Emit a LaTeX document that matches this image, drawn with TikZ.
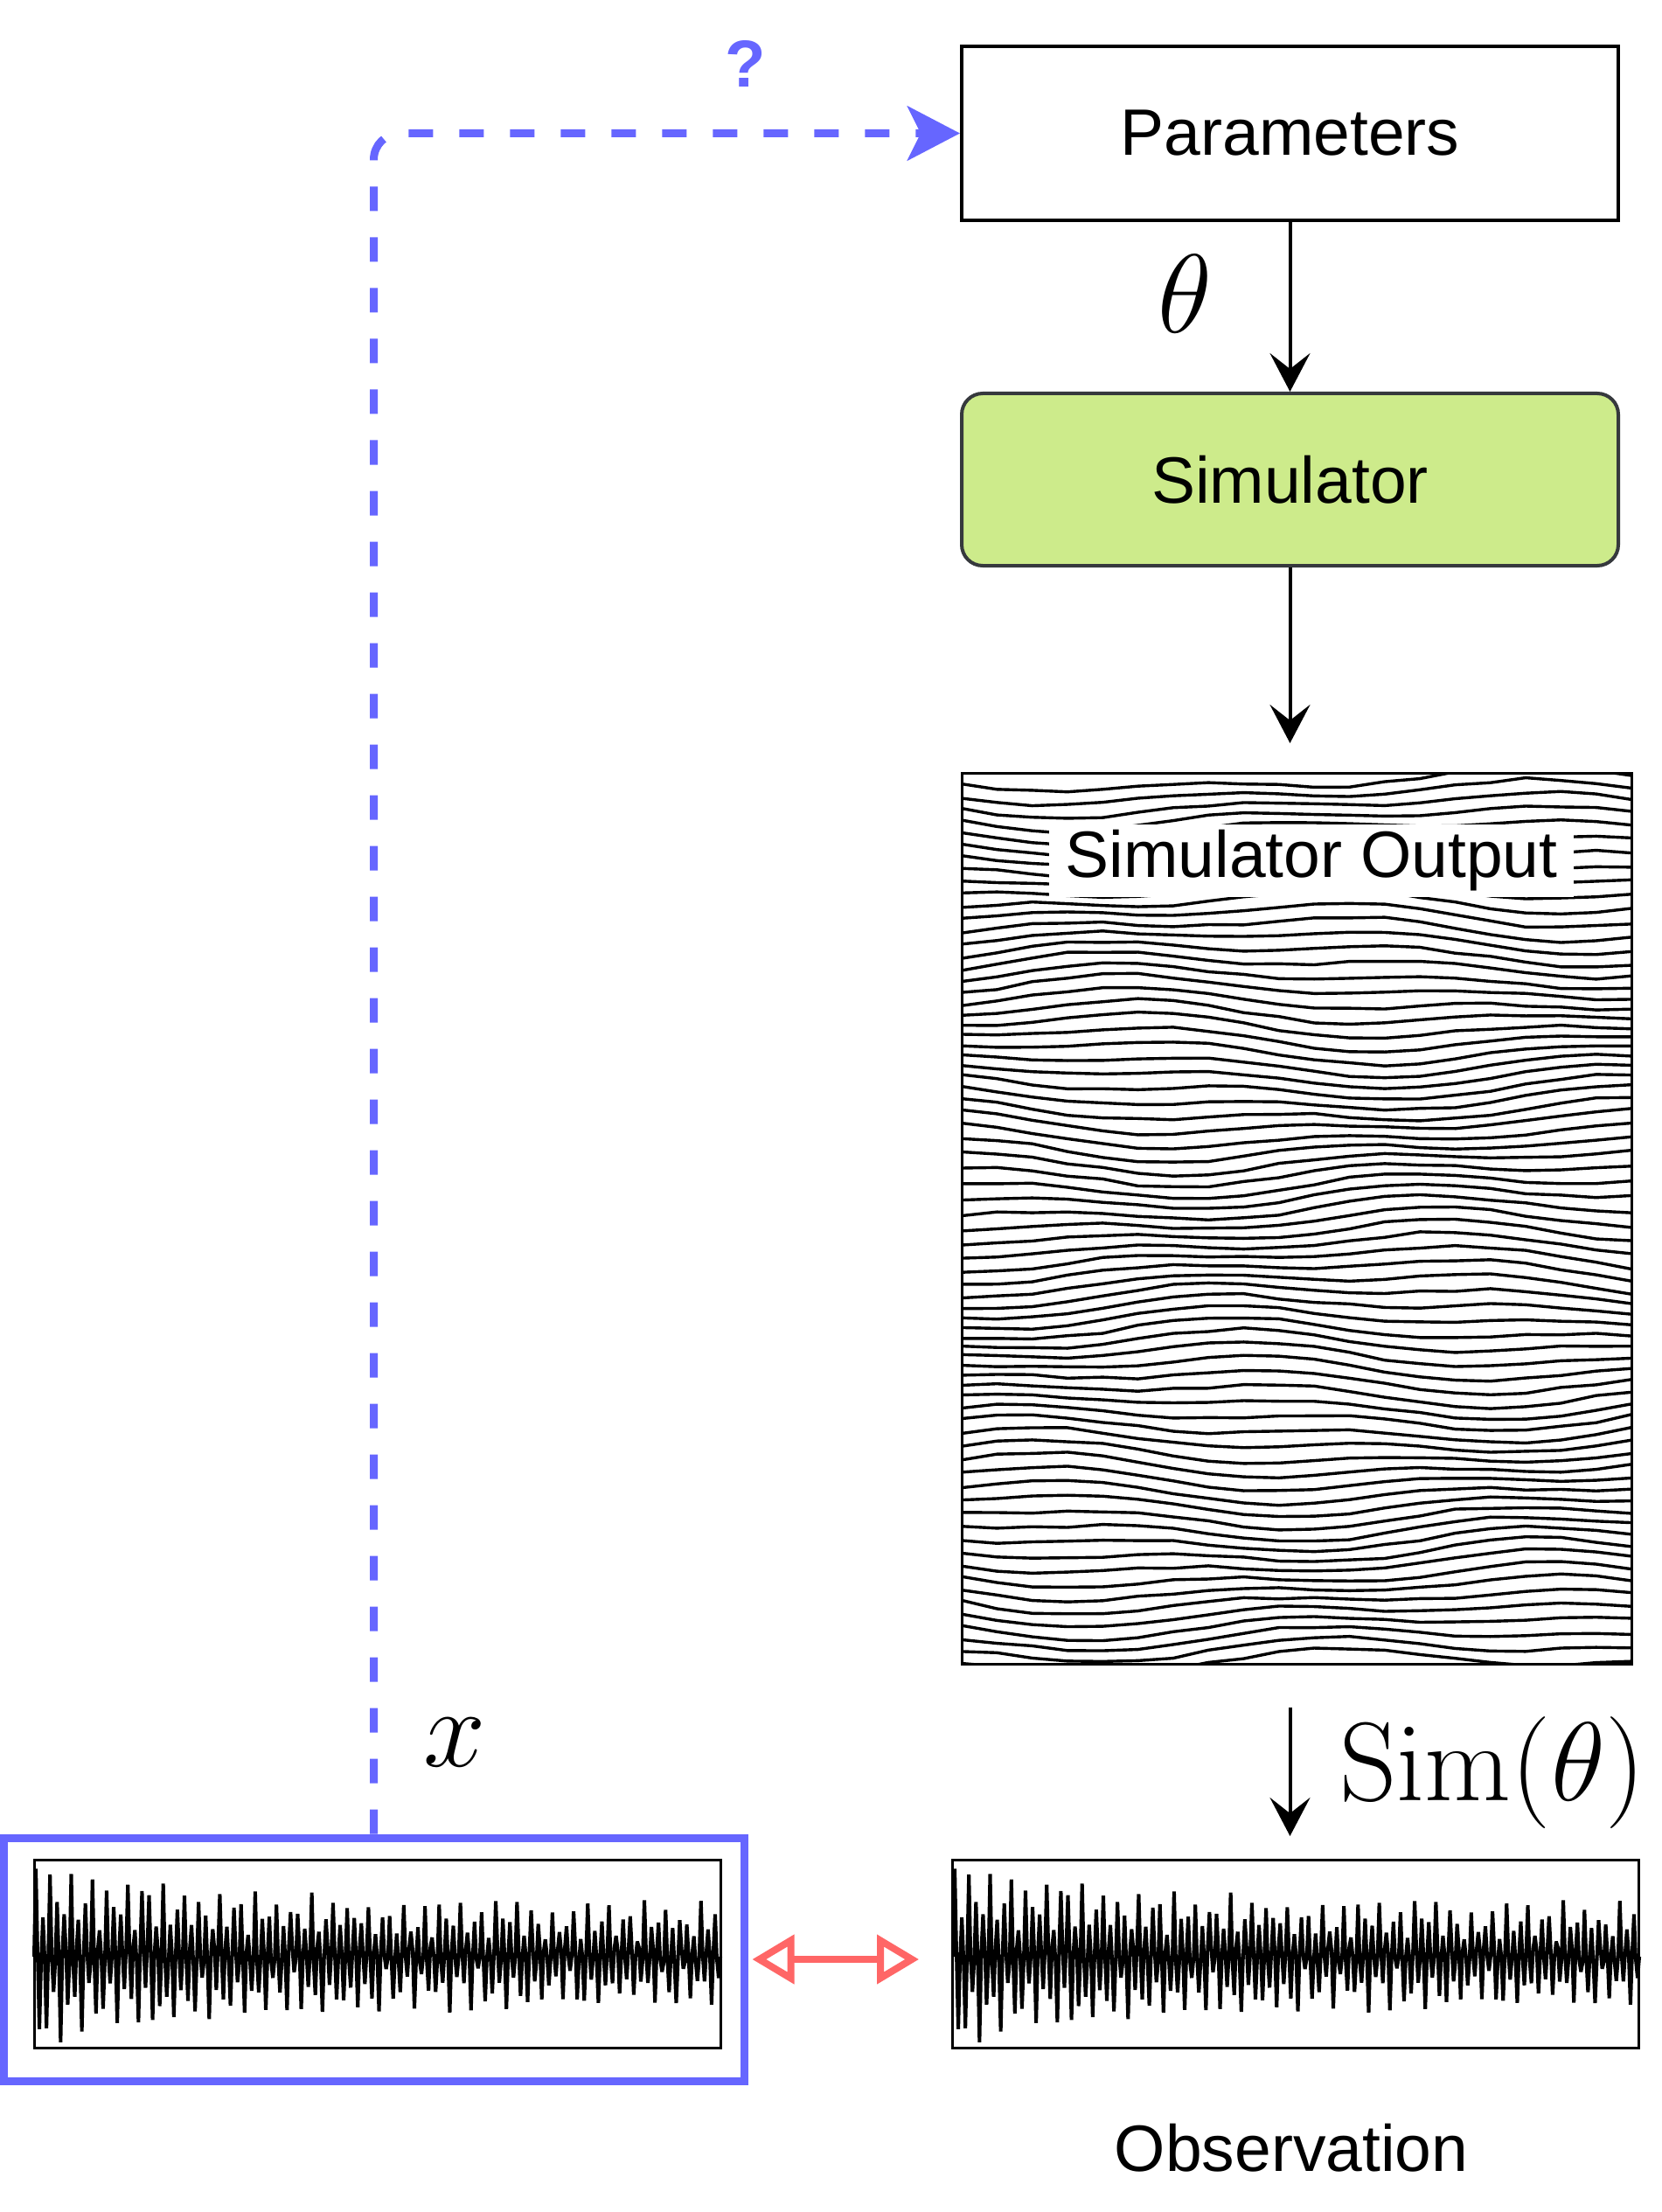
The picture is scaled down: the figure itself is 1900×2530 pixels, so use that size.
\RequirePackage{fix-cm}
\documentclass[tikz,border=0pt]{standalone}
\usepackage[no-math]{fontspec}
\newfontfamily\helv{Liberation Sans}
\usetikzlibrary{arrows.meta}
\definecolor{myblue}{HTML}{6666FF}
\definecolor{myred}{HTML}{FF6666}
\definecolor{simgreen}{HTML}{CDEB8B}
\definecolor{simstroke}{HTML}{36393D}
\begin{document}
\begin{tikzpicture}[x=0.5pt,y=-0.5pt,
  lbl/.style={font=\helv\fontsize{37.5}{45}\selectfont, inner sep=0pt},
  mth/.style={font=\fontsize{64}{72}\selectfont, inner sep=0pt},
  topbox/.style={draw, line width=2pt, minimum width=375.5pt, minimum height=99.5pt, inner sep=0pt},
  blk/.style={line width=2pt, -{Stealth[length=22pt,width=23pt,inset=9pt]}},
  wavebox/.style={draw, line width=1.5pt, minimum width=392.5pt, minimum height=107.5pt, inner sep=0pt},
  wave/.style={line width=2pt, line join=miter, miter limit=3},
  hatch/.style={line width=1.7pt},
  bluedash/.style={myblue, line width=4.5pt, dash pattern=on 14pt off 15pt, rounded corners=15pt},
  redarrow/.style={myred, line width=4pt, {Triangle[open,length=24pt,width=27.5pt]}-{Triangle[open,length=24pt,width=27.5pt]}}
]
\pgfmathsetseed{42}
\fill[white] (0,0) rectangle (1900,2530);
\useasboundingbox (0,0) rectangle (1900,2530);

% Parameters and Simulator
\node[topbox, lbl] (params) at (1475.5,152.5) {Parameters};
\node[topbox, lbl, minimum height=98.5pt, rounded corners=12pt, fill=simgreen, draw=simstroke] (sim) at (1475.5,548.5) {Simulator};
\draw[blk] (params) -- (sim);
\node[mth] (theta) at (1355,336) {$\theta$};

% Simulator output (hatched image)
\begin{scope}
  \clip (1100,884) rectangle (1866,1903);
  \foreach \i in {0,...,72} {
    \draw[hatch] plot[domain=0:766, samples=20, variable=\u]
      ({1100+\u}, {893+14*\i + 10*sin(0.42*\u + 11*\i) + 7*sin(0.9*\u - 17*\i + 40) + 1.5*rand});
  }
\end{scope}
\node[draw, line width=1.5pt, minimum width=383pt, minimum height=509.5pt, inner sep=0pt] (out) at (1483,1393.5) {};
\node[lbl, fill=white, minimum width=300pt, minimum height=41.5pt] (outlbl) at (1500,984) {Simulator Output};
\coordinate (a2) at (1475.5,850);
\draw[blk] (sim) -- (a2);

% Sim(theta) arrow
\coordinate (s1) at (1475.5,1953);
\coordinate (s2) at (1475.5,2100);
\draw[blk] (s1) -- (s2);
\node[mth] (simlbl) at (1707,2027) {$\mathrm{Sim}(\theta)$};

% Waveforms
\foreach \ox in {39,1090} {
  \pgfmathsetseed{7}
  \draw[wave] plot[domain=0:97, samples=389, variable=\t]
    ({\ox+8.093*\t}, {2236 - (52+48*exp(-\t/30))*sin(360*frac(\t))*(0.7+0.3*sin(360*frac(0.618*\t))) + 9*rand});
}
\node[wavebox] (xwave) at (431.5,2234.5) {};
\node[wavebox] (obs) at (1482,2234.5) {};
\node[draw=myblue, line width=4.5pt, minimum width=423.5pt, minimum height=139pt, inner sep=0pt] (xbox) at (427.5,2241) {};
\node[lbl] (obslbl) at (1477,2457) {Observation};

% x label and blue dashed connector
\node[mth] (xlbl) at (520,1993) {$x$};
\draw[bluedash, -{Stealth[length=30pt,width=31pt,inset=7.5pt]}] (xbox.north) |- (params.west);
\node[font=\helv\bfseries\fontsize{38}{45}\selectfont, text=myblue, inner sep=0pt] (q) at (853,73) {?};

% red comparison arrow
\coordinate (r2) at (1051,2241);
\draw[redarrow] ([xshift=2.5pt]xbox.east) -- (r2);
\end{tikzpicture}
\end{document}
